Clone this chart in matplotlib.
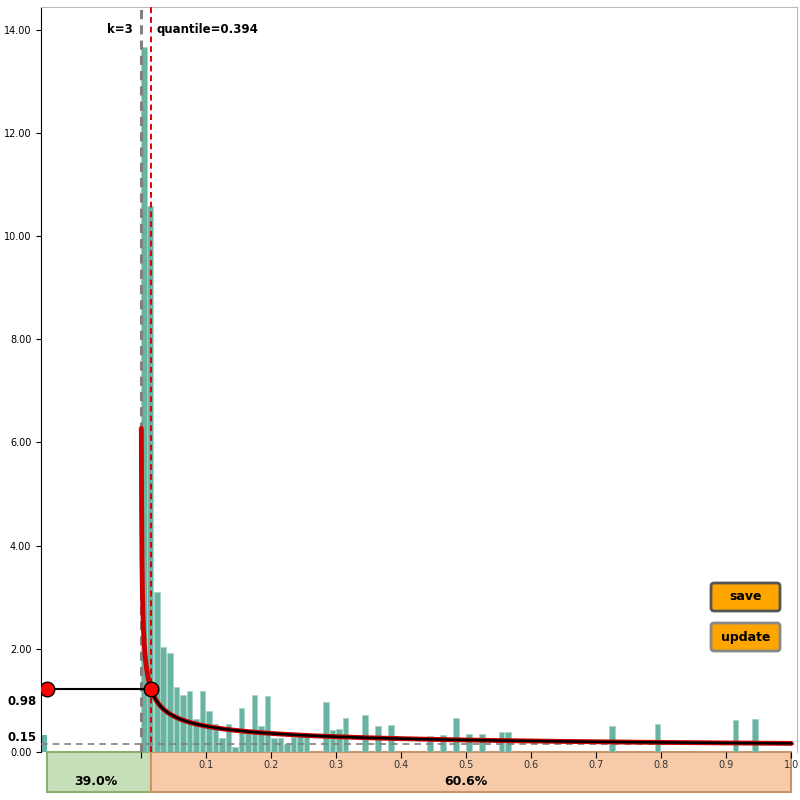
import numpy as np
import matplotlib
matplotlib.use("Agg")
import matplotlib.pyplot as plt
from matplotlib.patches import Rectangle, FancyBboxPatch

bin_width = 0.01
bin_index = [0, 1, 2, 3, 4, 5, 6, 7, 8, 9, 10, 11, 12, 13, 14, 15, 16, 17, 18, 19, 20, 21, 22, 23, 24, 25,
             28, 29, 30, 31, 34, 36, 38, 44, 46, 48, 50, 52, 55, 56, 72, 79, 91, 94]
bin_height = [13.67, 10.58, 3.1, 2.04, 1.92, 1.26, 1.1, 1.18, 0.64, 1.18, 0.8, 0.54, 0.27, 0.55, 0.1, 0.85,
              0.37, 1.1, 0.5, 1.08, 0.28, 0.28, 0.16, 0.3, 0.33, 0.35,
              0.97, 0.43, 0.44, 0.65, 0.72, 0.5, 0.53, 0.31, 0.32, 0.66, 0.34, 0.35, 0.38, 0.38, 0.5, 0.54, 0.62, 0.64]
left_bar_x = -0.154
left_bar_h = 0.33
quantile_x = 0.0154
quantile_y = 1.22
curve_p = 0.477
curve_c = 0.167
left_pct, right_pct = "39.0%", "60.6%"
xticks = [0.1, 0.2, 0.3, 0.4, 0.5, 0.6, 0.7, 0.8, 0.9, 1.0]
yticks = [0, 2, 4, 6, 8, 10, 12, 14]

fig = plt.figure(figsize=(8, 8), dpi=100)
ax = fig.add_axes([41/800, 48/800, 756/800, 745/800])
xmin, xmax = -0.1538, 1.009
ax.set_xlim(xmin, xmax)
ax.set_ylim(0, 14.44)

ax.bar(np.array(bin_index) * bin_width, bin_height, width=bin_width * 0.85, align='edge',
       color='#69b3a2', edgecolor='#a8d5c8', linewidth=0.6, zorder=2)
ax.bar([left_bar_x], [left_bar_h], width=bin_width, align='edge', color='#69b3a2', zorder=2)

x = np.geomspace(0.0005, 1.0, 400)
y = curve_c * x ** (-curve_p)
ax.plot(x, y, color='#cc0000', lw=3.5, zorder=4, solid_capstyle='round')
xb = x[x >= quantile_x]
ax.plot(xb, curve_c * xb ** (-curve_p), color='black', lw=1.8, zorder=5)

ax.axhline(0.15, color='grey', ls=(0, (4, 3)), lw=1.2, zorder=3)
ax.axvline(0, color='grey', ls=(0, (3, 2)), lw=2.2, zorder=3)
ax.axvline(quantile_x, color='#dd0000', ls=(0, (3, 2)), lw=1.4, zorder=6)
ax.plot([xmin + 0.009, quantile_x], [quantile_y, quantile_y], color='black', lw=1.5, zorder=6)
ax.scatter([xmin + 0.009, quantile_x], [quantile_y, quantile_y], s=110, color='red',
           edgecolor='black', linewidth=1, zorder=7)

ax.text(-0.012, 14.0, "k=3", ha='right', va='center', fontsize=8.5, fontweight='bold')
ax.text(0.024, 14.0, "quantile=0.394", ha='left', va='center', fontsize=8.5, fontweight='bold')

for s in ['top', 'right']:
    ax.spines[s].set_color('#bbbbbb')
ax.spines['bottom'].set_visible(False)
ax.spines['left'].set_color('black')

ax.set_yticks(yticks)
ax.set_yticklabels([f"{v:.2f}" for v in yticks], fontsize=7)
ax.text(xmin - 0.006, 0.98, "0.98", ha='right', va='center', fontsize=8.5, fontweight='bold', clip_on=False)
ax.text(xmin - 0.006, 0.15, "0.15", ha='right', va='bottom', fontsize=8.5, fontweight='bold', clip_on=False)
ax.set_xticks([0] + xticks)
ax.set_xticklabels([""] + [f"{v:.1f}" for v in xticks], fontsize=7, color='#333333')
ax.tick_params(axis='x', length=4, pad=2, direction='out')

trans = ax.get_xaxis_transform()
h = 40 / 745
ax.add_patch(Rectangle((xmin + 0.009, -h), quantile_x - xmin - 0.009, h, transform=trans,
                       facecolor='#c5dfb8', edgecolor='#8fae70', lw=1.5, clip_on=False, zorder=0))
ax.add_patch(Rectangle((quantile_x, -h), 1.0 - quantile_x, h, transform=trans,
                       facecolor='#f7cbaa', edgecolor='#c8956a', lw=1.5, clip_on=False, zorder=0))
ax.text((xmin + quantile_x) / 2, -0.039, left_pct, transform=trans, ha='center', va='center',
        fontsize=9, fontweight='bold')
ax.text(0.5, -0.039, right_pct, transform=trans, ha='center', va='center',
        fontsize=9, fontweight='bold')

for label, yb, ec in [("save", 800 - 611, '#555555'), ("update", 800 - 651, '#888888')]:
    fig.patches.append(FancyBboxPatch((711/800, yb/800), 69/800, 28/800, boxstyle="round,pad=0,rounding_size=0.004",
                                      transform=fig.transFigure, facecolor='#ffa500', edgecolor=ec, lw=2))
    fig.text(745.5/800, (yb + 14)/800, label, ha='center', va='center', fontsize=9, fontweight='bold')

fig.savefig("out.png", dpi=100)
